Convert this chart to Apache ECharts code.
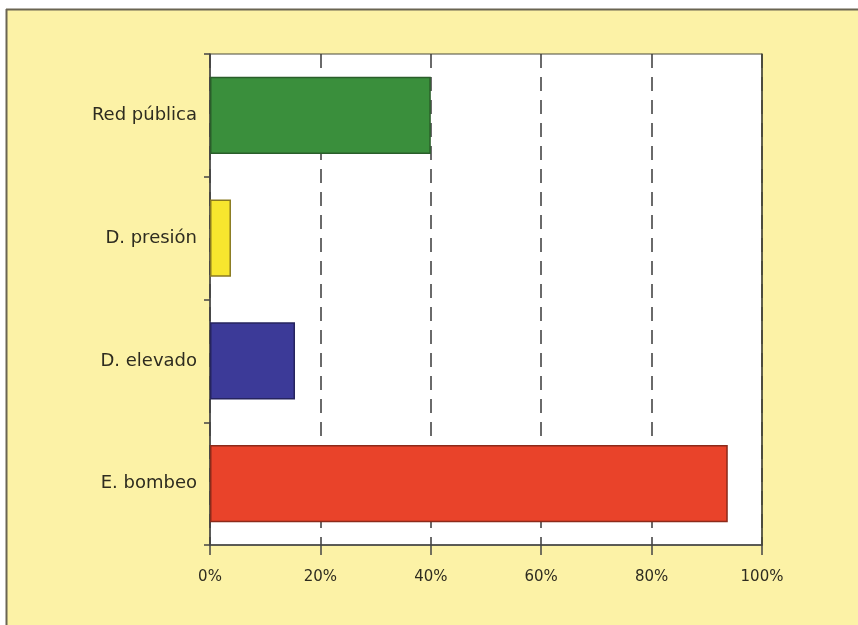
<!DOCTYPE html>
<html>
	<head>
		<meta charset="utf-8" />
		<title>Abastecimiento</title>
		<script src="https://cdn.jsdelivr.net/npm/echarts@6/dist/echarts.min.js"></script>
		<style>
			html, body { margin: 0; padding: 0; background: #ffffff; }
			#chart { width: 858px; height: 625px; }
		</style>
	</head>
	<body>
		<div id="chart"></div>
	<script type="text/javascript">
		// datos
		var categories = ['Red pública', 'D. presión', 'D. elevado', 'E. bombeo'];
		var values = [40, 3.8, 15.4, 93.8];
		var barColors = ['#3a8f3c', '#f7e62e', '#3c3a98', '#e9432a'];
		var barBorders = ['#2a5e2a', '#8a7a20', '#26245e', '#8c2a1a'];
		var xTicks = [0, 20, 40, 60, 80, 100];

		var myChart = echarts.init(document.getElementById('chart'));

		var labelFont = 'DejaVu Sans, Liberation Sans, sans-serif';

		var option = {
			backgroundColor: '#ffffff',
			animation: false,
			graphic: [
				// fondo amarillo con marco
				{ type: 'rect', shape: { x: 6, y: 9, width: 852, height: 616 }, style: { fill: '#fcf2a6' }, z: -10 },
				{ type: 'line', shape: { x1: 6, y1: 9.5, x2: 858, y2: 9.5 }, style: { stroke: '#6a6552', lineWidth: 2 }, z: -9 },
				{ type: 'line', shape: { x1: 6.5, y1: 9, x2: 6.5, y2: 625 }, style: { stroke: '#6a6552', lineWidth: 2 }, z: -9 }
			],
			grid: {
				left: 210, right: 96, top: 54, bottom: 80,
				show: true,
				backgroundColor: '#ffffff',
				borderColor: '#4a4a3a',
				borderWidth: 1
			},
			xAxis: {
				type: 'value',
				min: 0, max: 100, interval: 20,
				axisLine: { show: true, lineStyle: { color: '#444', width: 1.5 } },
				axisTick: { show: true, length: 10, lineStyle: { color: '#444', width: 1.5 } },
				axisLabel: {
					margin: 25,
					fontFamily: labelFont,
					fontSize: 15,
					color: '#2e2c20',
					formatter: function (v) { return xTicks.indexOf(v) >= 0 ? v + '%' : ''; }
				},
				splitLine: { show: true, lineStyle: { color: '#3a3a3a', width: 1.5, type: [14, 9] } }
			},
			yAxis: [{
				type: 'category',
				data: categories,
				inverse: true,
				axisLine: { show: true, lineStyle: { color: '#444', width: 1.5 } },
				axisTick: { show: true, length: 6, lineStyle: { color: '#444', width: 1.5 } },
				axisLabel: {
					margin: 13,
					fontFamily: labelFont,
					fontSize: 18,
					color: '#2e2c20'
				}
			}, {
				// borde derecho continuo
				type: 'category',
				data: categories,
				inverse: true,
				position: 'right',
				axisLine: { show: true, lineStyle: { color: '#4a4a3a', width: 1.5 } },
				axisTick: { show: false },
				axisLabel: { show: false }
			}],
			series: [{
				type: 'bar',
				barWidth: '63%',
				data: values.map(function (v, i) {
					return {
						value: v,
						itemStyle: { color: barColors[i], borderColor: barBorders[i], borderWidth: 1.5 }
					};
				})
			}]
		};

		myChart.setOption(option);
	</script>
	</body>
</html>
